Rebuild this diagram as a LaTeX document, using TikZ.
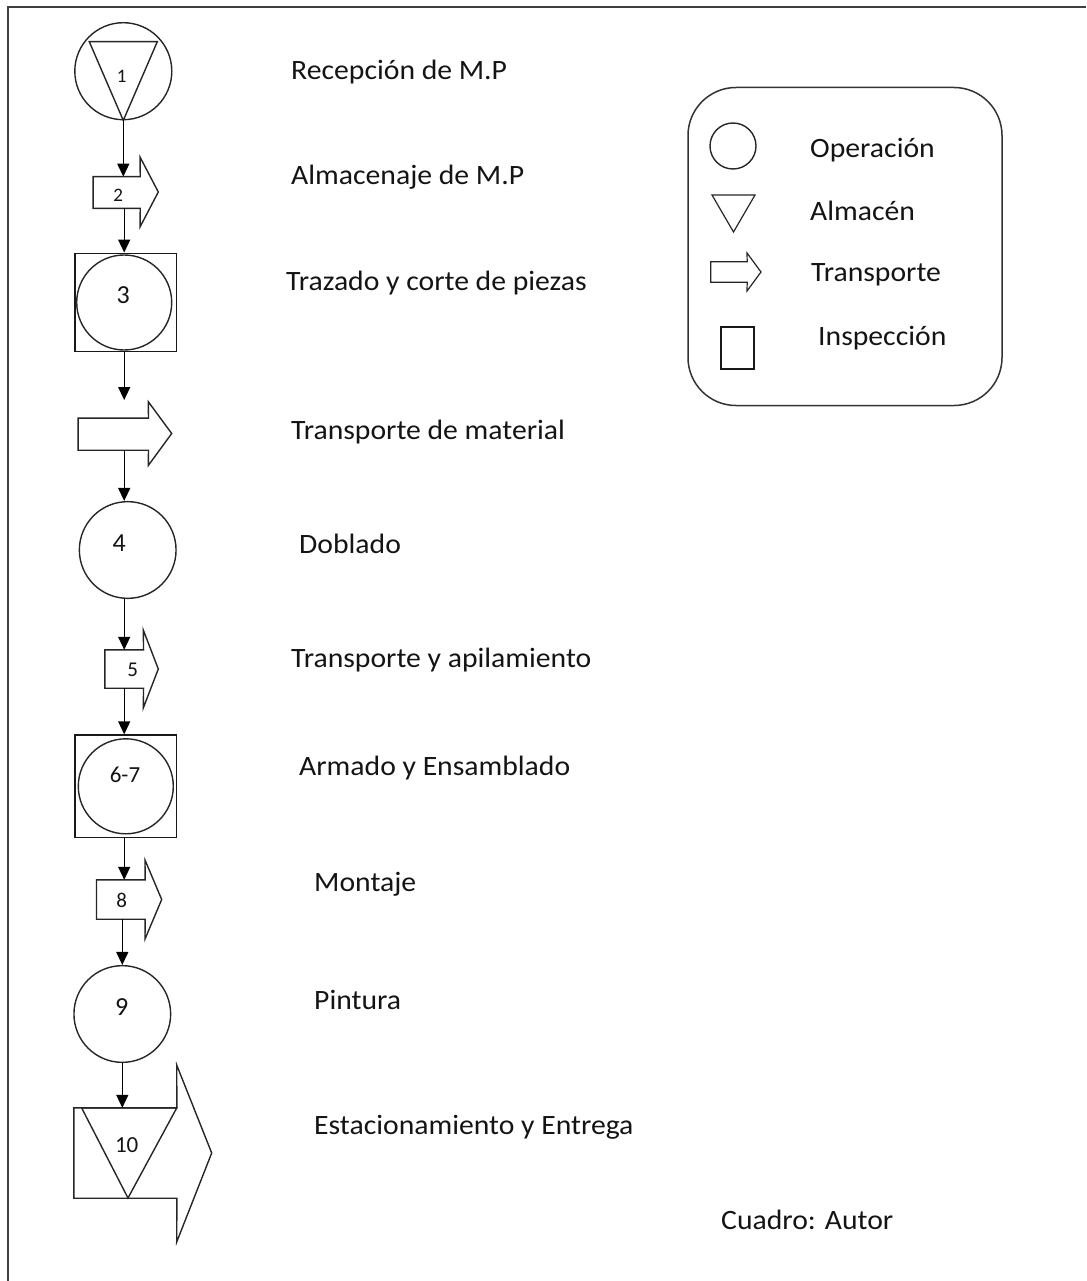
\documentclass[tikz,border=0pt]{standalone}
\usepackage{fontspec}
\setmainfont{Carlito}
\usetikzlibrary{arrows.meta}
\newcommand{\stxt}[1]{\scalebox{1.06}[1]{#1}}
\begin{document}
\begin{tikzpicture}[x=1pt,y=-1pt,
  shp/.style={draw=black!85, line width=1.4pt, line join=miter},
  opc/.style={circle, draw=black!85, line width=1.4pt, inner sep=0pt, minimum size=#1},
  insp/.style={rectangle, draw=black!90, line width=1.4pt, inner sep=0pt},
  body/.style={rectangle, draw=none, inner sep=0pt},
  arr/.style={draw=black, line width=1.4pt, -{Triangle[length=13pt,width=12pt]}},
  lbl/.style={inner sep=0pt, anchor=base west, font=\fontsize{28}{32}\selectfont, text=black!92},
  num/.style={inner sep=0pt, anchor=center, font=\fontsize{#1}{#1}\selectfont, text=black!92}
]
\useasboundingbox (0,0) rectangle (1086,1281);
% frame (open at right and bottom)
\draw[line width=2.6pt, draw=black!75] (8,1281) -- (8,7) -- (1086,7);

% 1: operation + storage
\node[opc=97] (c1) at (123.3,71.2) {};
\draw[shp] (89.3,41.7) -- (157.3,41.7) -- (c1.south) -- cycle;
\node[num=19] (n1) at (121.7,76.7) {1};

% 2: transport
\node[body, minimum width=46.7, minimum height=31.3] (t2) at (116.7,192.5) {};
\draw[shp] (t2.north west) -- (t2.north east) -- (140,157) -- (158.3,192) -- (140,227) -- (t2.south east) -- (t2.south west) -- cycle;
\node[num=19] (n2) at (118.3,195) {2};

% 3: inspection + operation
\node[insp, minimum width=101.7, minimum height=98.4] (s3) at (125.8,302.5) {};
\node[opc=95] (c3) at (124.2,302.5) {};
\node[num=26] (n3) at (123.3,295) {3};

% transport (no number)
\node[body, minimum width=70, minimum height=31.7] (t4) at (113.3,434.2) {};
\draw[shp] (t4.north west) -- (t4.north east) -- (148.3,401.7) -- (171.7,433.5) -- (148.3,465.5) -- (t4.south east) -- (t4.south west) -- cycle;
\coordinate (a4) at (124.2,400);

% 4: operation
\node[opc=96.7] (c4) at (127.7,550) {};
\node[num=26] (n4) at (119.3,543) {4};

% 5: transport
\node[body, minimum width=38.3, minimum height=38] (t5) at (124.2,669) {};
\draw[shp] (t5.north west) -- (t5.north east) -- (143.3,630) -- (158.3,669) -- (143.3,708) -- (t5.south east) -- (t5.south west) -- cycle;
\node[num=21] (n5) at (132.7,669.5) {5};

% 6-7: inspection + operation
\node[insp, minimum width=101.7, minimum height=102.3] (s6) at (125.8,786.2) {};
\node[opc=95] (c6) at (125.8,786.3) {};
\node[num=23] (n6) at (125,775) {6-7};

% 8: transport
\node[body, minimum width=48.3, minimum height=39] (t8) at (120.8,899.5) {};
\draw[shp] (t8.north west) -- (t8.north east) -- (145,860) -- (161.7,899.5) -- (145,939) -- (t8.south east) -- (t8.south west) -- cycle;
\node[num=21] (n8) at (121.7,900) {8};

% 9: operation
\node[opc=96.7] (c9) at (122.3,1014) {};
\node[num=26] (n9) at (121.7,1006.7) {9};

% 10: transport + storage
\node[body, minimum width=102.7, minimum height=90] (t10) at (125.35,1153) {};
\draw[shp] (t10.north west) -- (t10.north east) -- (176.7,1065) -- (211.7,1153) -- (176.7,1242) -- (t10.south east) -- (t10.south west) -- cycle;
\draw[shp] (81.7,1108) -- (176.7,1108) -- (128,1198) -- cycle;
\node[num=23] (n10) at (126.7,1145) {10};

% connectors
\draw[arr] (c1.south) -- (c1.south |- t2.north);
\draw[arr] (c3.north |- t2.south) -- (c3.north |- s3.north);
\draw[arr] (c3.north |- s3.south) -- (a4);
\draw[arr] (a4 |- t4.south) -- (a4 |- c4.north);
\draw[arr] (a4 |- c4.south) -- (a4 |- t5.north);
\draw[arr] (a4 |- t5.south) -- (a4 |- s6.north);
\draw[arr] (a4 |- s6.south) -- (a4 |- t8.north);
\draw[arr] (c9.north |- t8.south) -- (c9.north);
\draw[arr] (c9.south) -- (c9.south |- t10.north);

% step labels
\node[lbl] (l1) at (291,80) {\stxt{Recepción de M.P}};
\node[lbl] (l2) at (291,185) {\stxt{Almacenaje de M.P}};
\node[lbl] (l3) at (286,290) {\stxt{Trazado y corte de piezas}};
\node[lbl] (l4) at (291,439) {\stxt{Transporte de material}};
\node[lbl] (l5) at (299,553) {\stxt{Doblado}};
\node[lbl] (l6) at (291,667) {\stxt{Transporte y apilamiento}};
\node[lbl] (l7) at (299,775) {\stxt{Armado y Ensamblado}};
\node[lbl] (l8) at (314,891) {\stxt{Montaje}};
\node[lbl] (l9) at (314,1009) {\stxt{Pintura}};
\node[lbl] (l10) at (314,1134) {\stxt{Estacionamiento y Entrega}};
\node[lbl] (src) at (721,1229) {\stxt{Cuadro: Autor}};

% legend
\node[rectangle, draw=black!80, line width=1.5pt, rounded corners=48pt, minimum width=314, minimum height=318, inner sep=0pt] (leg) at (845,246.5) {};
\node[opc=46] (lc) at (733,146) {};
\draw[shp, line width=1.2pt] (712,195) -- (755,195) -- (733.5,232) -- cycle;
\node[body, minimum width=36, minimum height=20] (lt) at (729,272) {};
\draw[shp, line width=1.2pt] (lt.north west) -- (lt.north east) -- (747,253) -- (761,272) -- (747,291) -- (lt.south east) -- (lt.south west) -- cycle;
\node[insp, line width=1.2pt, minimum width=33, minimum height=42] (ls) at (737.5,348) {};
\node[lbl] (lo) at (810,158) {\stxt{Operación}};
\node[lbl] (la) at (810,221) {\stxt{Almacén}};
\node[lbl] (ltr) at (811,281) {\stxt{Transporte}};
\node[lbl] (li) at (818,345) {\stxt{Inspección}};
\end{tikzpicture}
\end{document}
